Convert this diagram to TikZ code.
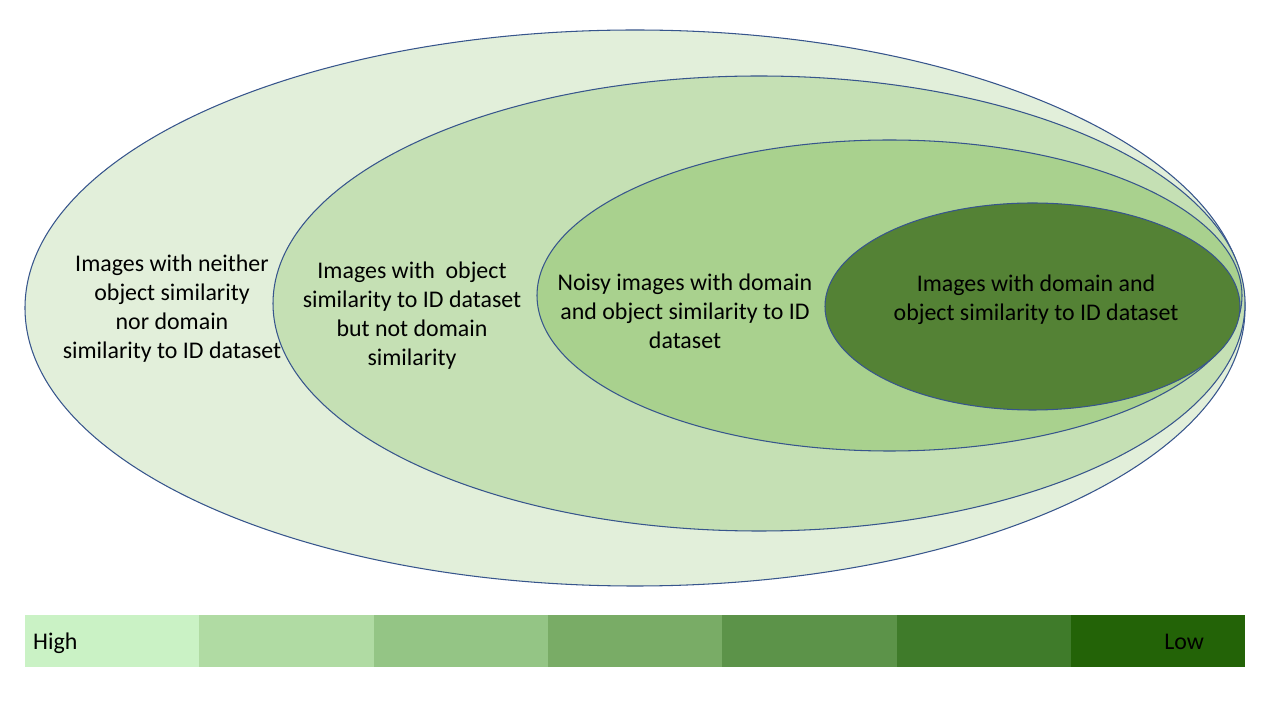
\documentclass[tikz,border=0pt]{standalone}
\usepackage{fontspec}
\setmainfont{Carlito}
\usepackage{tikz}
\usepackage{xcolor}
\usetikzlibrary{shapes.geometric, positioning}
\definecolor{cRim}{RGB}{55,85,140}
\definecolor{cSetA}{RGB}{226,239,218}
\definecolor{cSetB}{RGB}{197,224,180}
\definecolor{cSetC}{RGB}{169,209,142}
\definecolor{cSetD}{RGB}{84,130,53}
\definecolor{cBarA}{RGB}{202,242,197}
\definecolor{cBarB}{RGB}{176,219,163}
\definecolor{cBarC}{RGB}{148,197,133}
\definecolor{cBarD}{RGB}{121,172,102}
\definecolor{cBarE}{RGB}{92,147,73}
\definecolor{cBarF}{RGB}{63,123,42}
\definecolor{cBarG}{RGB}{35,99,7}
\tikzset{
	setell/.style={ellipse, draw=cRim, line width=0.6pt, inner sep=0pt},
	setlabel/.style={align=center, font=\fontsize{13.6}{16.5}\selectfont, text=black},
	scalecell/.style={rectangle, minimum width=3.486cm, minimum height=1.02cm, inner sep=0pt, outer sep=0pt},
}
\begin{document}
\begin{tikzpicture}
	\useasboundingbox (0,0) rectangle (25.6,14.4);
	% nested sets
	\node[setell, fill=cSetA, minimum width=24.4cm, minimum height=11.12cm] (setA) at (12.70,8.24) {};
	\node[setell, fill=cSetB, minimum width=19.44cm, minimum height=9.10cm] (setB) at (15.18,8.33) {};
	\node[setell, fill=cSetC, minimum width=14.10cm, minimum height=6.22cm] (setC) at (17.79,8.49) {};
	\node[setell, fill=cSetD, minimum width=8.30cm, minimum height=4.14cm] (setD) at (20.65,8.27) {};
	\node[setlabel] (labA) at (3.44,8.22) {Images with neither\\object similarity\\nor domain\\similarity to ID dataset};
	\node[setlabel] (labB) at (8.24,8.09) {Images with\ \ object\\similarity to ID dataset\\but not domain\\similarity};
	\node[setlabel] (labC) at (13.70,8.18) {Noisy images with domain\\and object similarity to ID\\dataset};
	\node[setlabel] (labD) at (20.72,8.40) {Images with domain and\\object similarity to ID dataset};
	% colour scale
	\foreach \c [count=\i] in {cBarA,cBarB,cBarC,cBarD,cBarE,cBarF,cBarG}
		\node[scalecell, fill=\c, anchor=west] (s\i) at ({0.5+(\i-1)*3.486},1.58) {};
	\node[setlabel, anchor=base west] (high) at ([xshift=0.04cm, yshift=-0.18cm]s1.west) {High};
	\node[setlabel, anchor=base east] (low) at ([xshift=-0.70cm, yshift=-0.18cm]s7.east) {Low};
\end{tikzpicture}
\end{document}
